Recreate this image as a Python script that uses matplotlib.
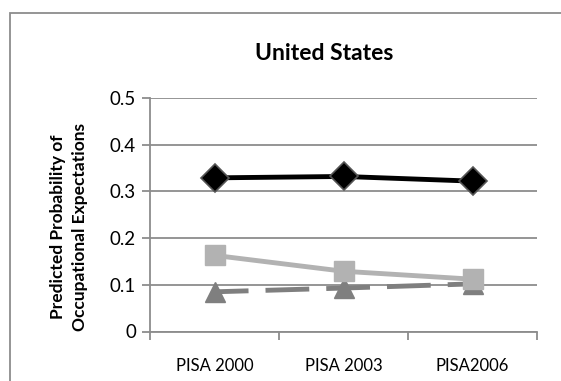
import matplotlib.pyplot as plt
from matplotlib.patches import Rectangle

# Predicted probabilities by PISA wave
waves = ['PISA 2000', 'PISA 2003', 'PISA2006']
series_top = [0.329, 0.332, 0.322]
series_mid = [0.163, 0.129, 0.112]
series_low = [0.085, 0.093, 0.102]
y_ticks = [0, 0.1, 0.2, 0.3, 0.4, 0.5]

plt.rcParams['font.family'] = ['Lato', 'DejaVu Sans']

fig = plt.figure(figsize=(5.61, 3.81), dpi=100)
W, H = 561, 381

# chart frame (runs off the right and bottom edges)
fig.patches.append(Rectangle((9.5 / W, -0.05), 1.0, 1.05 - 12.5 / H,
                             transform=fig.transFigure, fill=False,
                             edgecolor='#8c8c8c', linewidth=1.3))

ax = fig.add_axes([150 / W, 1 - 331.5 / H, (537 - 150) / W, (331.5 - 98) / H])

x = [1, 2, 3]
ax.plot(x, series_top, color='black', linewidth=3.5, marker='D', markersize=14,
        markerfacecolor='black', markeredgecolor='#555555', markeredgewidth=1.2, zorder=5)
ax.plot(x, series_mid, color='#b2b2b2', linewidth=3.5, marker='s', markersize=14,
        markerfacecolor='#b2b2b2', markeredgecolor='#b2b2b2', zorder=4)
ax.plot(x, series_low, color='#7f7f7f', linewidth=3.5, linestyle=(2, (9, 3.5)),
        marker='^', markersize=15, markerfacecolor='#7f7f7f', markeredgecolor='#7f7f7f', zorder=3)

ax.set_xlim(0.5, 3.5)
ax.set_ylim(0, 0.5)
ax.set_yticks(y_ticks)
ax.set_yticklabels(['0', '0.1', '0.2', '0.3', '0.4', '0.5'], fontsize=13.5)
ax.set_xticks([1, 2, 3])
ax.set_xticklabels(waves, fontsize=12)
ax.set_xticks([0.5, 1.5, 2.5, 3.5], minor=True)
ax.tick_params(axis='x', which='major', length=0, pad=19)
ax.tick_params(axis='x', which='minor', length=6, color='#8c8c8c', width=1.3)
ax.tick_params(axis='y', length=6, color='#8c8c8c', width=1.3, pad=4)

ax.grid(axis='y', color='#8c8c8c', linewidth=1.3)
ax.set_axisbelow(True)
for side in ['top', 'right']:
    ax.spines[side].set_visible(False)
for side in ['left', 'bottom']:
    ax.spines[side].set_color('#8c8c8c')
    ax.spines[side].set_linewidth(1.3)

fig.text(69 / W, 1 - 227 / H, 'Predicted Probability of\nOccupational Expectations',
         rotation=90, ha='center', va='center', fontsize=12.5, fontweight='bold',
         linespacing=1.4)
fig.text(324 / W, 1 - 54 / H, 'United States',
         ha='center', va='center', fontsize=16.5, fontweight='bold')

fig.savefig('out.png', dpi=100)
